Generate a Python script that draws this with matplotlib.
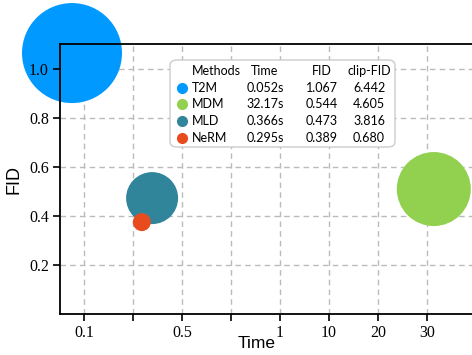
import numpy as np
import matplotlib.pyplot as plt
from matplotlib.patches import FancyBboxPatch

# datos del gráfico
methods = ['T2M', 'MDM', 'MLD', 'NeRM']
time_str = ['0.052s', '32.17s', '0.366s', '0.295s']
fid_str = ['1.067', '0.544', '0.473', '0.389']
clip_str = ['6.442', '4.605', '3.816', '0.680']
# posición sobre el eje de categorías y FID
time_pos = [-0.245, 7.14, 1.39, 1.18]
fid_y = [1.065, 0.51, 0.473, 0.375]
bubble_r = [50, 37, 26, 9]  # radio en px
colors = ['#0099ff', '#92d050', '#31859b', '#e84c1e']

xtick_labels = ['0.1', '', '0.5', '', '1', '10', '20', '30']
yticks = [0.2, 0.4, 0.6, 0.8, 1.0]

fig = plt.figure(figsize=(4.72, 3.55), dpi=100)
ax = fig.add_axes([60/472, 41/355, 412/472, 270/355])

sizes = [(2 * r * 72 / 100) ** 2 for r in bubble_r]
ax.scatter(time_pos, fid_y, s=sizes, c=colors, edgecolors='none', clip_on=False, zorder=1)

ax.set_xlim(-0.49, 7.92)
ax.set_ylim(0, 1.102)
ax.set_xticks(range(len(xtick_labels)))
ax.set_xticklabels(xtick_labels)
ax.set_yticks(yticks)
ax.set_yticklabels(['%.1f' % v for v in yticks])
for lab in ax.get_xticklabels() + ax.get_yticklabels():
    lab.set_fontfamily('Liberation Serif')
    lab.set_fontsize(11.5)
ax.tick_params(direction='out', length=5, width=1.2, pad=3)

# rejilla debajo de las burbujas
for i in range(len(xtick_labels)):
    ax.axvline(i, color='#bbbbbb', linestyle=(0, (4, 3)), linewidth=1, zorder=0.5)
for v in yticks:
    ax.axhline(v, color='#bbbbbb', linestyle=(0, (4, 3)), linewidth=1, zorder=0.5)

ax.spines['right'].set_visible(False)
for s in ['left', 'bottom', 'top']:
    ax.spines[s].set_linewidth(1.3)

ax.set_xlabel('Time', fontfamily='Liberation Sans', fontsize=12.5, labelpad=0)
ax.set_ylabel('FID', fontfamily='Liberation Sans', fontsize=13, labelpad=5)
ax.xaxis.set_label_coords((257 - 60) / 412, -0.08)

# leyenda tipo tabla
def px(x, y):
    return fig.transFigure.inverted().transform((x, 355 - y))

box_x0, box_y0 = px(170, 147)
box_x1, box_y1 = px(395, 60)
box = FancyBboxPatch((box_x0, box_y0), box_x1 - box_x0, box_y1 - box_y0,
                     boxstyle='round,pad=0,rounding_size=0.015',
                     transform=fig.transFigure, facecolor='white',
                     edgecolor='#cccccc', linewidth=1, zorder=5)
fig.patches.append(box)

lfont = dict(fontfamily='Lato', fontsize=9, va='center', zorder=6)
hy = 71
fig.text(*px(192, hy), 'Methods', ha='left', **lfont)
fig.text(*px(265, hy), 'Time', ha='center', **lfont)
fig.text(*px(322, hy), 'FID', ha='center', **lfont)
fig.text(*px(369, hy), 'clip-FID', ha='center', **lfont)
rows_y = [88, 104, 121, 138]
for i, m in enumerate(methods):
    y = rows_y[i]
    mx, my = px(182, y)
    fig.add_artist(plt.Line2D([mx], [my], marker='o', markersize=7, color=colors[i],
                              linestyle='none', transform=fig.transFigure, zorder=6))
    fig.text(*px(192, y), m, ha='left', **lfont)
    fig.text(*px(265, y), time_str[i], ha='center', **lfont)
    fig.text(*px(322, y), fid_str[i], ha='center', **lfont)
    fig.text(*px(369, y), clip_str[i], ha='center', **lfont)

fig.savefig('out.png', dpi=100)
